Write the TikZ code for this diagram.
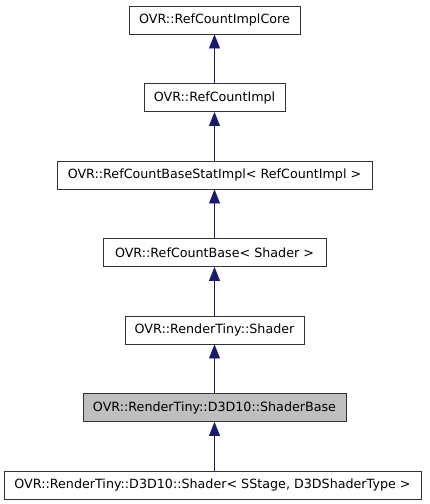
\documentclass[tikz,border=0pt]{standalone}
\usepackage{fontspec}
\setmainfont{DejaVu Sans}
\usetikzlibrary{arrows.meta,positioning}
\definecolor{Edge}{HTML}{191970}
\definecolor{Current}{HTML}{BFBFBF}
\tikzset{cls/.style={draw=black!80,line width=0.9pt,fill=white,minimum height=28pt,inner sep=0pt,font=\fontsize{12.7}{14}\selectfont},inherit/.style={{Triangle[length=14pt,width=11pt]}-,line width=0.9pt,draw=Edge,fill=Edge}}

\begin{document}
\begin{tikzpicture}[x=1pt,y=1pt]
\useasboundingbox (0,0) rectangle (429,-504);
\node[cls,minimum width=171pt] (core) at (214.5,-20) {OVR::RefCountImplCore};
\node[cls,minimum width=141pt] (impl) at (214.5,-97.5) {OVR::RefCountImpl};
\node[cls,minimum width=315pt] (stat) at (214.5,-175) {OVR::RefCountBaseStatImpl< RefCountImpl >};
\node[cls,minimum width=223pt] (base) at (214.5,-252.5) {OVR::RefCountBase< Shader >};
\node[cls,minimum width=179pt] (shader) at (214.5,-330) {OVR::RenderTiny::Shader};
\node[cls,fill=Current,minimum width=263pt] (sbase) at (214.5,-407.5) {OVR::RenderTiny::D3D10::ShaderBase};
\node[cls,minimum width=417pt] (d3d) at (212.5,-485) {OVR::RenderTiny::D3D10::Shader< SStage, D3DShaderType >};
\draw[inherit] (core) -- (impl);
\draw[inherit] (impl) -- (stat);
\draw[inherit] (stat) -- (base);
\draw[inherit] (base) -- (shader);
\draw[inherit] (shader) -- (sbase);
\draw[inherit] (sbase.south) -- (sbase.south |- d3d.north);
\end{tikzpicture}
\end{document}
